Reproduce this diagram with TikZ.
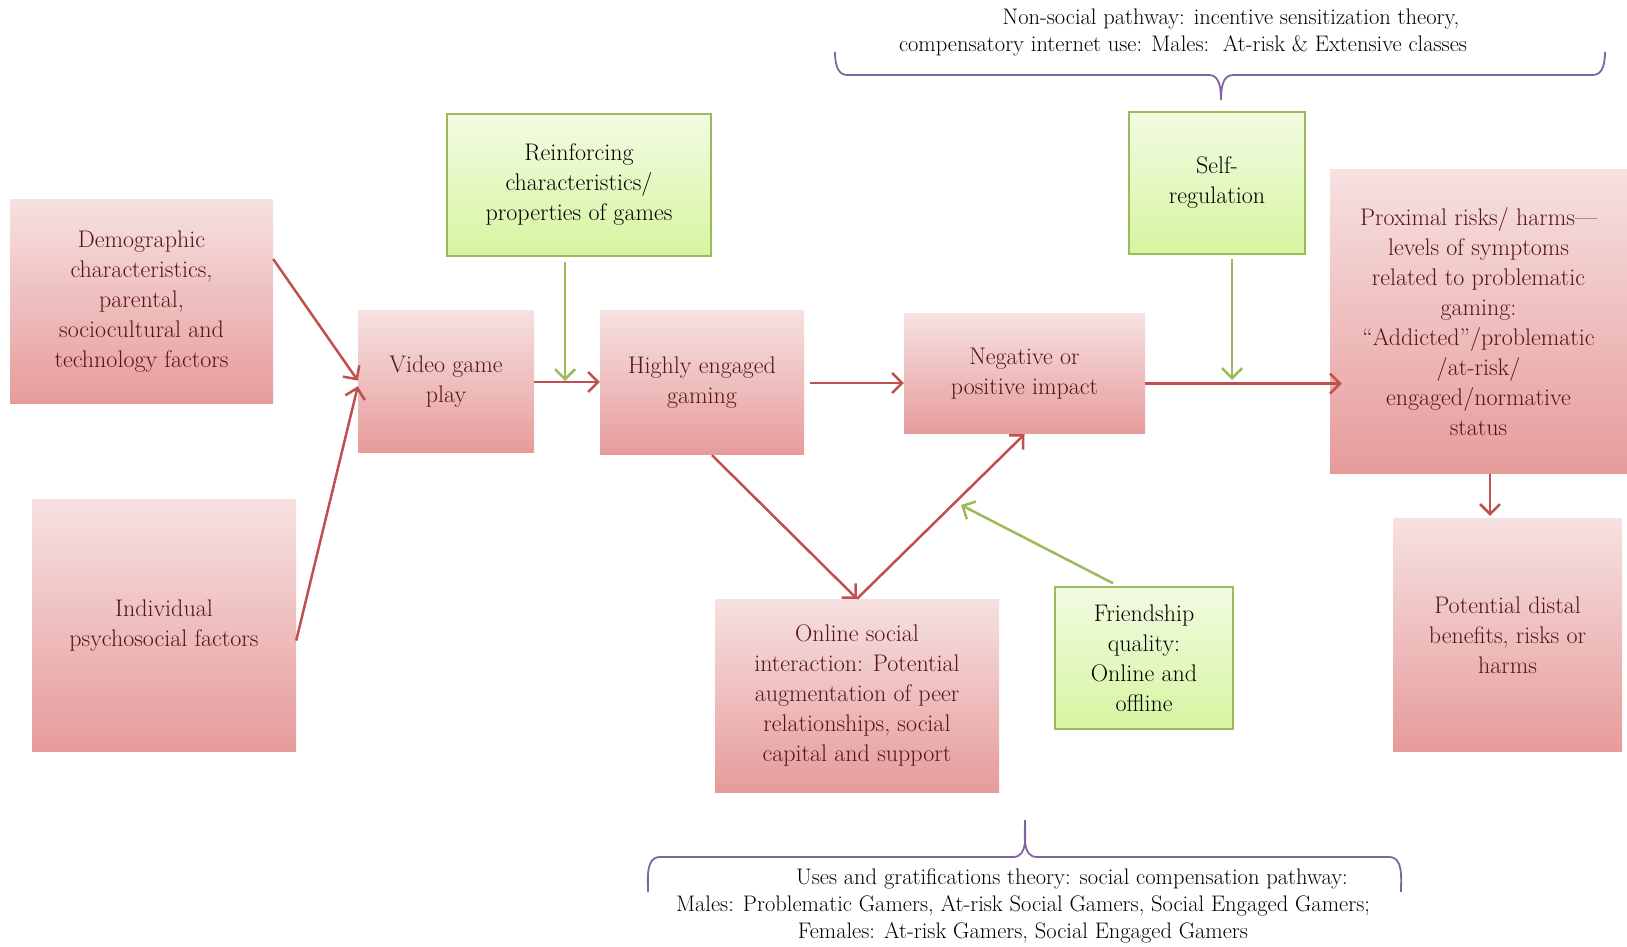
\documentclass[tikz,border=0pt]{standalone}
\usepackage[dvipsnames]{xcolor}
\usetikzlibrary{arrows, arrows.meta}
\usetikzlibrary{positioning}
\usetikzlibrary{calc}
\definecolor{pinktop}{RGB}{246,225,225}
\definecolor{pinkbot}{RGB}{231,155,155}
\definecolor{pinktext}{RGB}{82,22,20}
\definecolor{greentop}{RGB}{242,251,226}
\definecolor{greenbot}{RGB}{214,245,160}
\definecolor{greenline}{RGB}{155,187,89}
\definecolor{arrowred}{RGB}{192,80,77}
\definecolor{bracepurple}{RGB}{128,100,162}
\tikzset{
  pinkbox/.style={top color=pinktop, bottom color=pinkbot, text=pinktext, align=center, inner sep=0pt, font=\fontsize{24}{30}\selectfont},
  greenbox/.style={top color=greentop, bottom color=greenbot, draw=greenline, line width=1.5pt, text=black, align=center, inner sep=0pt, font=\fontsize{24}{30}\selectfont},
  redarrow/.style={draw=arrowred, line width=2.5pt, -{Straight Barb[length=10pt,width=20pt,line width=2.5pt]}},
  greenarrow/.style={draw=greenline, line width=2.5pt, -{Straight Barb[length=10pt,width=20pt,line width=2.5pt]}},
  brace/.style={draw=bracepurple, line width=1.8pt},
  bracetext/.style={align=center, inner sep=0pt, font=\fontsize{22.5}{27}\selectfont}
}
\begin{document}
\begin{tikzpicture}[x=1pt, y=1pt]
  \useasboundingbox (0,0) rectangle (1627,946);
  % boxes
  \node[pinkbox, minimum width=263pt, minimum height=204pt] (demo) at (141.5,644) {Demographic\\characteristics,\\parental,\\sociocultural and\\technology factors};
  \node[pinkbox, minimum width=264pt, minimum height=251pt] (indiv) at (164,320.5) {Individual\\psychosocial factors};
  \node[pinkbox, minimum width=176pt, minimum height=142pt] (video) at (446,564) {Video game\\play};
  \node[pinkbox, minimum width=204pt, minimum height=144pt] (high) at (702,563) {Highly engaged\\gaming};
  \node[greenbox, minimum width=264pt, minimum height=142pt] (reinf) at (579,761) {Reinforcing\\characteristics/\\properties of games};
  \node[pinkbox, minimum width=241pt, minimum height=120pt] (neg) at (1024.5,572) {Negative or\\positive impact};
  \node[greenbox, minimum width=176pt, minimum height=142pt] (selfreg) at (1217,763) {Self-\\regulation};
  \node[pinkbox, minimum width=297pt, minimum height=304pt] (prox) at (1478.5,624) {Proximal risks/ harms---\\levels of symptoms\\related to problematic\\gaming:\\``Addicted''/problematic\\/at-risk/\\engaged/normative\\status};
  \node[pinkbox, minimum width=229pt, minimum height=232pt] (distal) at (1507.5,311) {Potential distal\\benefits, risks or\\harms};
  \node[pinkbox, minimum width=284pt, minimum height=193pt] (online) at (857,250.5) {Online social\\interaction: Potential\\augmentation of peer\\relationships, social\\capital and support};
  \node[greenbox, minimum width=178pt, minimum height=142pt] (friend) at (1144,288) {Friendship\\quality:\\Online and\\offline};
  % arrow ends
  \coordinate (reinfend) at (565,565);
  \coordinate (selfend) at (1232,566);
  \coordinate (friendend) at (961,441);
  \coordinate (negout) at ($(neg.north east)!0.58!(neg.south east)$);
  % red arrows
  \draw[redarrow] ($(demo.north east)!0.29!(demo.south east)$) -- ($(video.north west)!0.49!(video.south west)$);
  \draw[redarrow] ($(indiv.north east)!0.56!(indiv.south east)$) -- ($(video.north west)!0.53!(video.south west)$);
  \draw[redarrow] (video.east) -- (video.east -| high.west);
  \draw[redarrow, shorten <=6pt] (high.east) -- (high.east -| neg.west);
  \draw[redarrow] ([xshift=10pt]high.south) -- (online.north);
  \draw[redarrow] (online.north) -- (neg.south);
  \draw[redarrow, shorten >=-12pt] (negout) -- (negout -| prox.west);
  \draw[redarrow, shorten >=3pt] ([xshift=11.5pt]prox.south) -- ([xshift=11.5pt]prox.south |- distal.north);
  % green arrows
  \draw[greenarrow] ([yshift=-5pt]reinf.south -| reinfend) -- (reinfend);
  \draw[greenarrow] ([yshift=-4pt]selfreg.south -| selfend) -- (selfend);
  \draw[greenarrow] ([xshift=-31pt,yshift=3pt]friend.north) -- (friendend);
  % braces
  \draw[brace] (835,894) to[out=-90,in=180] (847,871) -- (1209,871) to[out=0,in=90] (1221,846) to[out=90,in=180] (1233,871) -- (1593,871) to[out=0,in=-90] (1605,894);
  \draw[brace] (648,54) to[out=90,in=180] (660,89) -- (1013,89) to[out=0,in=-90] (1025,126) to[out=-90,in=180] (1037,89) -- (1389,89) to[out=0,in=90] (1401,54);
  % brace texts
  \node[bracetext] (toptext) at (1183,913.5) {\hspace*{96pt}Non-social pathway: incentive sensitization theory,\\compensatory internet use: Males:\ \ At-risk \& Extensive classes};
  \node[bracetext] (bottext) at (1023,40.5) {\hspace*{98pt}Uses and gratifications theory: social compensation pathway:\\Males: Problematic Gamers, At-risk Social Gamers, Social Engaged Gamers;\\Females: At-risk Gamers, Social Engaged Gamers};
\end{tikzpicture}
\end{document}
